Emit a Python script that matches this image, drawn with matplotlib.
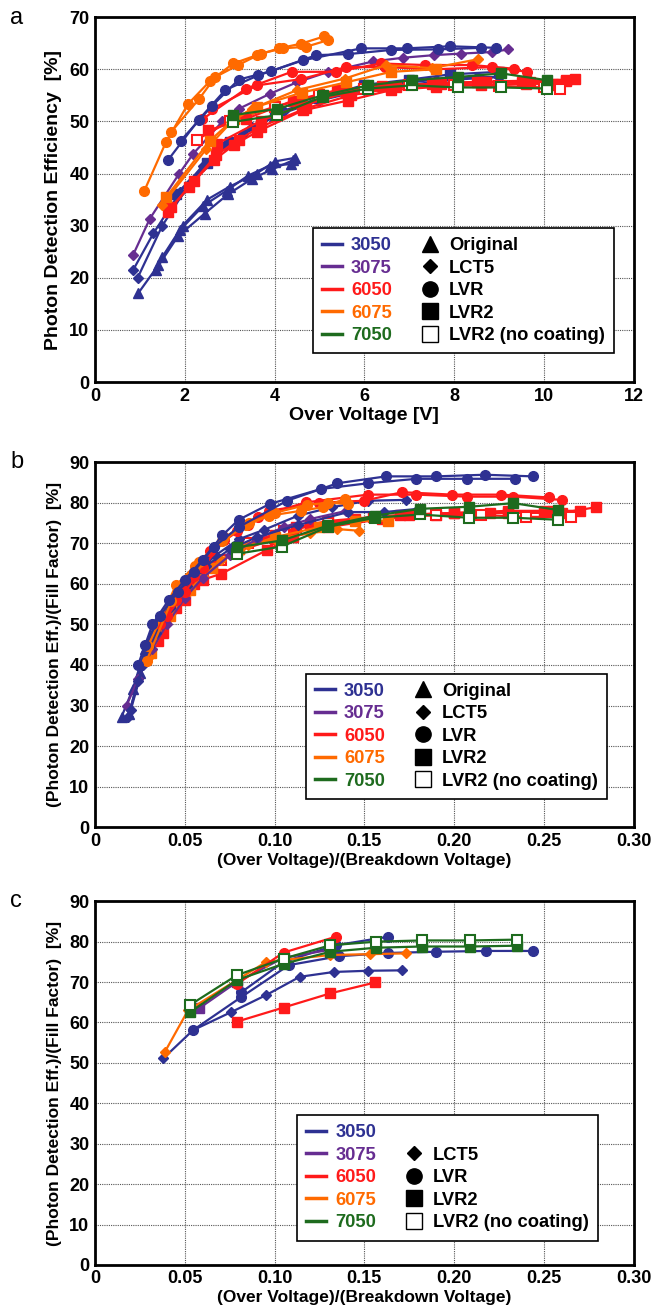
import matplotlib
matplotlib.use('Agg')
import matplotlib.pyplot as plt
from matplotlib.lines import Line2D

plt.rcParams['font.family'] = ['Liberation Sans', 'DejaVu Sans']

# sensor types and colours
sensors = ['3050', '3075', '6050', '6075', '7050']
colors = {'3050': '#2e3192', '3075': '#662d91', '6050': '#ff1a1a',
          '6075': '#ff6a00', '7050': '#1e6b1e'}
coatings = ['Original', 'LCT5', 'LVR', 'LVR2', 'LVR2 (no coating)']

# ---------------- panel a : PDE vs over voltage ----------------
a_t1_v = [0.96, 1.41, 1.89, 2.41, 2.93, 3.41, 3.89, 4.37]
a_t1_p = [17.0, 22.4, 29.1, 33.8, 36.7, 39.6, 41.5, 41.8]
a_t2_v = [1.35, 1.85, 2.44, 2.96, 3.5, 3.95, 4.4]
a_t2_p = [21.5, 28.0, 32.3, 36.0, 39.0, 40.8, 42.5]
a_t3_v = [1.5, 1.95, 2.5, 3.0, 3.6, 4.0, 4.45]
a_t3_p = [24.0, 30.0, 35.0, 37.5, 40.0, 42.3, 43.0]
a_bd1_v = [0.85, 1.3, 1.9, 2.4, 2.9, 3.5, 4.2, 5.0, 6.0, 7.0, 7.6, 8.5, 9.0]
a_bd1_p = [21.5, 28.5, 36.5, 41.5, 45.5, 49.0, 52.0, 54.5, 56.5, 57.5, 58.0, 58.5, 58.5]
a_bd2_v = [0.95, 1.5, 2.1, 2.7, 3.3, 4.0, 5.0, 6.0, 7.0, 8.0, 9.0]
a_bd2_p = [20.0, 30.0, 38.0, 43.5, 47.5, 51.0, 54.0, 56.0, 57.0, 58.0, 58.5]
a_bs_v = [1.8, 2.5, 3.0, 4.0, 5.0, 6.0, 7.0, 7.9, 9.0]
a_bs_p = [36.0, 42.0, 46.0, 51.0, 54.5, 57.0, 58.0, 59.0, 59.5]
a_bc1_v = [1.62, 2.31, 2.9, 3.63, 4.63, 5.93, 6.94, 7.91, 8.93]
a_bc1_p = [42.5, 50.3, 56.0, 58.8, 61.7, 64.0, 64.0, 64.4, 64.1]
a_bc2_v = [1.91, 2.6, 3.2, 3.91, 4.93, 5.64, 6.6, 7.63, 8.6]
a_bc2_p = [46.3, 52.9, 58.0, 59.6, 62.7, 62.9, 63.7, 63.8, 64.1]
a_pd1_v = [0.85, 1.22, 1.87, 2.19, 2.84, 3.2, 3.9, 4.5, 5.2, 6.2, 6.86, 7.55, 8.16, 8.85, 9.21]
a_pd1_p = [24.4, 31.3, 39.9, 43.8, 50.0, 52.4, 55.3, 57.5, 59.5, 61.5, 62.2, 62.7, 63.0, 63.3, 63.8]
a_rc1_v = [2.39, 3.37, 4.38, 5.36, 6.37, 7.35, 8.4, 9.33]
a_rc1_p = [50.4, 56.3, 59.5, 59.5, 61.1, 60.8, 60.8, 60.1]
a_rc2_v = [2.61, 3.61, 4.59, 5.6, 6.45, 7.6, 8.85, 9.62]
a_rc2_p = [52.4, 56.9, 58.1, 60.4, 60.4, 60.0, 60.4, 59.5]
a_rs1_v = [1.62, 2.1, 2.64, 3.1, 3.61, 4.63, 5.64, 6.6, 7.6, 8.6, 9.6, 10.2, 10.7]
a_rs1_p = [32.6, 37.5, 42.5, 45.5, 48.0, 52.1, 54.0, 56.0, 56.6, 57.0, 57.2, 57.2, 58.2]
a_rs2_v = [1.7, 2.2, 2.7, 3.2, 3.7, 4.7, 5.7, 6.7, 7.7, 8.7, 9.7, 10.5]
a_rs2_p = [33.5, 38.5, 43.5, 46.5, 49.0, 52.5, 55.0, 56.5, 57.2, 57.5, 57.5, 57.8]
a_rs3_v = [2.52, 3.37, 4.42, 5.4, 6.4, 7.5, 8.5, 9.5, 10.3]
a_rs3_p = [48.3, 50.5, 54.0, 56.0, 56.8, 57.2, 57.5, 57.5, 57.0]
a_rs4_v = [2.72, 3.69, 4.6, 5.6, 6.6, 7.6, 8.6, 9.6, 10.5]
a_rs4_p = [45.7, 50.1, 53.0, 55.5, 56.6, 57.3, 57.6, 57.8, 58.0]
a_ro_v = [2.27, 3.0, 4.0, 5.0, 6.0, 7.0, 8.0, 9.0, 10.0, 10.35]
a_ro_p = [46.5, 50.0, 52.8, 55.0, 56.2, 57.0, 57.0, 56.8, 56.5, 56.3]
a_oc1_v = [1.10, 1.58, 2.07, 2.56, 3.08, 3.61, 4.1, 4.59, 5.11]
a_oc1_p = [36.7, 46.0, 53.3, 57.7, 61.1, 62.7, 64.0, 64.9, 66.3]
a_oc2_v = [1.70, 2.31, 2.68, 3.19, 3.7, 4.18, 4.7, 5.2]
a_oc2_p = [48.0, 54.2, 58.5, 60.8, 63.0, 64.0, 64.3, 65.6]
a_od1_v = [1.5, 2.48, 3.04, 3.49, 4.5, 5.56, 6.49, 7.5, 8.52]
a_od1_p = [34.0, 44.7, 49.9, 52.4, 56.0, 58.2, 60.8, 60.2, 61.9]
a_os_v = [1.58, 2.56, 3.1, 3.6, 4.6, 5.6, 6.6, 7.6]
a_os_p = [35.4, 46.3, 50.5, 52.8, 55.5, 57.5, 59.5, 60.0]
a_gs_v = [3.08, 4.06, 5.07, 6.09, 7.06, 8.08, 9.05, 10.06]
a_gs_p = [51.2, 52.4, 55.0, 56.9, 57.9, 58.5, 59.2, 57.9]
a_go_v = [3.08, 4.06, 5.07, 6.09, 7.06, 8.08, 9.05, 10.06]
a_go_p = [49.9, 51.2, 54.7, 56.3, 56.9, 56.5, 56.5, 56.3]

# ---------------- panel b : PDE/FF vs OV/Vbd ----------------
b_t1_x = [0.0148, 0.021, 0.028, 0.035, 0.042, 0.05, 0.057, 0.064]
b_t1_y = [27.2, 34.0, 44.0, 50.0, 55.5, 60.5, 64.0, 67.5]
b_t2_x = [0.019, 0.025, 0.031, 0.038, 0.045, 0.052, 0.06, 0.066]
b_t2_y = [28.0, 38.0, 47.0, 52.0, 57.5, 62.0, 65.5, 68.0]
b_bd1_x = [0.0185, 0.024, 0.03, 0.037, 0.045, 0.055, 0.067, 0.08, 0.094, 0.113, 0.132, 0.152, 0.173]
b_bd1_y = [27.2, 36.0, 44.5, 51.0, 56.5, 62.0, 67.0, 71.0, 73.3, 76.8, 78.9, 80.5, 80.7]
b_bd2_x = [0.02, 0.027, 0.034, 0.042, 0.051, 0.062, 0.075, 0.09, 0.113, 0.141, 0.161, 0.18]
b_bd2_y = [29.0, 40.0, 48.0, 54.0, 59.5, 64.5, 68.5, 71.5, 74.5, 77.7, 77.7, 78.5]
b_bc1_x = [0.024, 0.032, 0.041, 0.05, 0.06, 0.071, 0.08, 0.0973, 0.126, 0.152, 0.179, 0.207, 0.234]
b_bc1_y = [40.0, 50.0, 56.0, 61.0, 66.0, 72.0, 75.8, 79.7, 83.4, 84.8, 85.9, 85.9, 85.9]
b_bc2_x = [0.028, 0.036, 0.046, 0.055, 0.066, 0.08, 0.107, 0.135, 0.162, 0.19, 0.217, 0.244]
b_bc2_y = [45.0, 52.0, 58.0, 63.0, 69.0, 74.0, 80.5, 84.8, 86.5, 86.5, 86.9, 86.5]
b_pd_x = [0.0176, 0.024, 0.032, 0.04, 0.05, 0.06, 0.075, 0.09, 0.105, 0.12, 0.14]
b_pd_y = [30.0, 36.5, 44.0, 50.0, 56.5, 61.5, 67.0, 71.0, 74.0, 76.0, 78.0]
b_rc1_x = [0.036, 0.045, 0.055, 0.064, 0.079, 0.091, 0.1176, 0.152, 0.179, 0.207, 0.233, 0.26]
b_rc1_y = [50.0, 56.0, 62.0, 68.2, 73.0, 76.6, 80.1, 82.0, 82.0, 81.5, 81.5, 80.7]
b_rc2_x = [0.04, 0.05, 0.06, 0.072, 0.085, 0.097, 0.125, 0.15, 0.171, 0.199, 0.226, 0.253]
b_rc2_y = [52.0, 58.0, 64.0, 70.7, 74.5, 78.0, 80.0, 80.5, 82.6, 82.0, 82.0, 81.3]
b_rs1_x = [0.035, 0.045, 0.055, 0.065, 0.08, 0.1, 0.12, 0.145, 0.17, 0.2, 0.23, 0.26, 0.279]
b_rs1_y = [46.0, 54.0, 60.0, 64.5, 68.5, 72.0, 74.5, 76.0, 77.0, 77.5, 77.5, 77.5, 78.9]
b_rs2_x = [0.038, 0.05, 0.06, 0.0704, 0.096, 0.11, 0.13, 0.16, 0.19, 0.22, 0.25, 0.27]
b_rs2_y = [48.0, 56.0, 61.0, 62.5, 68.4, 71.5, 74.0, 76.0, 77.0, 77.5, 78.0, 78.0]
b_rs3_x = [0.06, 0.079, 0.1, 0.112, 0.13, 0.155, 0.175, 0.2, 0.23, 0.255]
b_rs3_y = [64.0, 68.0, 71.0, 74.0, 75.5, 76.5, 77.0, 77.5, 78.0, 78.0]
b_ro_x = [0.06, 0.07, 0.085, 0.105, 0.13, 0.16, 0.19, 0.215, 0.24, 0.265]
b_ro_y = [63.4, 66.0, 70.0, 73.0, 75.0, 76.5, 77.0, 77.0, 76.5, 76.5]
b_oc1_x = [0.0287, 0.0426, 0.0556, 0.071, 0.084, 0.097, 0.1145, 0.127, 0.139]
b_oc1_y = [41.0, 55.8, 64.5, 70.6, 74.4, 76.8, 78.0, 78.9, 80.9]
b_oc2_x = [0.0296, 0.045, 0.058, 0.072, 0.086, 0.1, 0.118, 0.13, 0.141]
b_oc2_y = [44.7, 59.6, 65.5, 71.5, 75.0, 77.5, 79.5, 80.0, 79.7]
b_od_x = [0.03, 0.04, 0.05, 0.06, 0.07, 0.085, 0.1, 0.12, 0.135, 0.147]
b_od_y = [42.0, 51.0, 57.0, 62.0, 66.0, 69.5, 71.0, 72.5, 73.5, 73.1]
b_os_x = [0.031, 0.042, 0.053, 0.065, 0.08, 0.1, 0.125, 0.145, 0.163]
b_os_y = [43.0, 52.0, 58.5, 64.0, 68.5, 71.5, 74.0, 75.5, 75.6]
b_gs_x = [0.079, 0.104, 0.13, 0.156, 0.181, 0.208, 0.233, 0.258]
b_gs_y = [69.0, 70.7, 74.4, 76.8, 78.5, 79.0, 79.9, 78.2]
b_go_x = [0.079, 0.104, 0.13, 0.156, 0.181, 0.208, 0.233, 0.258]
b_go_y = [67.4, 69.2, 74.1, 76.3, 77.1, 76.3, 76.3, 75.8]

# ---------------- panel c ----------------
c_bd_x = [0.038, 0.0546, 0.076, 0.0954, 0.114, 0.133, 0.152, 0.171]
c_bd_y = [51.1, 58.1, 62.6, 66.8, 71.3, 72.5, 72.8, 72.9]
c_bc1_x = [0.0546, 0.0815, 0.108, 0.136, 0.163, 0.19, 0.218, 0.244]
c_bc1_y = [58.1, 66.3, 74.2, 76.4, 77.2, 77.5, 77.7, 77.7]
c_bc2_x = [0.0815, 0.105, 0.134, 0.163]
c_bc2_y = [67.5, 75.0, 79.1, 81.2]
c_ps_x = [0.058, 0.079, 0.105, 0.131]
c_ps_y = [63.5, 70.0, 76.0, 78.0]
c_rc_x = [0.079, 0.105, 0.134]
c_rc_y = [69.5, 77.3, 81.2]
c_rs_x = [0.079, 0.105, 0.131, 0.156]
c_rs_y = [60.2, 63.7, 67.2, 69.9]
c_od_x = [0.0389, 0.0518, 0.079, 0.0954, 0.131, 0.153, 0.173]
c_od_y = [52.7, 63.0, 70.5, 75.0, 76.7, 76.9, 77.1]
c_go_x = [0.0528, 0.079, 0.105, 0.131, 0.1565, 0.182, 0.209, 0.235]
c_go_y = [64.3, 71.7, 75.8, 79.1, 80.0, 80.3, 80.3, 80.5]
c_gs_x = [0.0528, 0.079, 0.105, 0.131, 0.1565, 0.182, 0.209, 0.235]
c_gs_y = [62.5, 70.5, 74.5, 77.5, 78.5, 78.8, 78.8, 79.0]

# (x, y, sensor, marker, open)
curves_a = [
    (a_t1_v, a_t1_p, '3050', '^', False), (a_t2_v, a_t2_p, '3050', '^', False),
    (a_t3_v, a_t3_p, '3050', '^', False), (a_bd1_v, a_bd1_p, '3050', 'D', False),
    (a_bd2_v, a_bd2_p, '3050', 'D', False), (a_bs_v, a_bs_p, '3050', 's', False),
    (a_pd1_v, a_pd1_p, '3075', 'D', False),
    (a_rs1_v, a_rs1_p, '6050', 's', False), (a_rs2_v, a_rs2_p, '6050', 's', False),
    (a_rs3_v, a_rs3_p, '6050', 's', False), (a_rs4_v, a_rs4_p, '6050', 's', False),
    (a_ro_v, a_ro_p, '6050', 's', True),
    (a_rc1_v, a_rc1_p, '6050', 'o', False), (a_rc2_v, a_rc2_p, '6050', 'o', False),
    (a_od1_v, a_od1_p, '6075', 'D', False), (a_os_v, a_os_p, '6075', 's', False),
    (a_bc1_v, a_bc1_p, '3050', 'o', False), (a_bc2_v, a_bc2_p, '3050', 'o', False),
    (a_oc1_v, a_oc1_p, '6075', 'o', False), (a_oc2_v, a_oc2_p, '6075', 'o', False),
    (a_go_v, a_go_p, '7050', 's', True), (a_gs_v, a_gs_p, '7050', 's', False),
]
curves_b = [
    (b_rs1_x, b_rs1_y, '6050', 's', False), (b_rs2_x, b_rs2_y, '6050', 's', False),
    (b_rs3_x, b_rs3_y, '6050', 's', False), (b_ro_x, b_ro_y, '6050', 's', True),
    (b_od_x, b_od_y, '6075', 'D', False), (b_os_x, b_os_y, '6075', 's', False),
    (b_t1_x, b_t1_y, '3050', '^', False), (b_t2_x, b_t2_y, '3050', '^', False),
    (b_pd_x, b_pd_y, '3075', 'D', False),
    (b_bd1_x, b_bd1_y, '3050', 'D', False), (b_bd2_x, b_bd2_y, '3050', 'D', False),
    (b_rc1_x, b_rc1_y, '6050', 'o', False), (b_rc2_x, b_rc2_y, '6050', 'o', False),
    (b_oc1_x, b_oc1_y, '6075', 'o', False), (b_oc2_x, b_oc2_y, '6075', 'o', False),
    (b_bc1_x, b_bc1_y, '3050', 'o', False), (b_bc2_x, b_bc2_y, '3050', 'o', False),
    (b_go_x, b_go_y, '7050', 's', True), (b_gs_x, b_gs_y, '7050', 's', False),
]
curves_c = [
    (c_bd_x, c_bd_y, '3050', 'D', False), (c_bc1_x, c_bc1_y, '3050', 'o', False),
    (c_bc2_x, c_bc2_y, '3050', 'o', False), (c_ps_x, c_ps_y, '3075', 's', False),
    (c_rs_x, c_rs_y, '6050', 's', False), (c_od_x, c_od_y, '6075', 'D', False),
    (c_rc_x, c_rc_y, '6050', 'o', False),
    (c_gs_x, c_gs_y, '7050', 's', False), (c_go_x, c_go_y, '7050', 's', True),
]

msize = {'^': 7, 'D': 5, 'o': 7, 's': 7}

fig = plt.figure(figsize=(6.66, 13.13), dpi=100)
ax_a = fig.add_axes([0.1426, 0.709, 0.809, 0.278])
ax_b = fig.add_axes([0.1426, 0.370, 0.809, 0.278])
ax_c = fig.add_axes([0.1426, 0.0366, 0.809, 0.277])


def draw(ax, curves):
    for x, y, s, m, op in curves:
        c = colors[s]
        ax.plot(x, y, color=c, lw=1.6, marker=m, ms=msize[m],
                mfc='white' if op else c, mec=c, mew=1.5 if op else 1)


def style(ax, xlim, ylim, xticks, xlabels, yticks, xlabel, ylabel, lsize):
    ax.set_xlim(*xlim)
    ax.set_ylim(*ylim)
    ax.set_xticks(xticks)
    ax.set_xticklabels(xlabels)
    ax.set_yticks(yticks)
    ax.grid(True, color='#555555', ls=(0, (1, 1)), lw=0.8)
    ax.set_axisbelow(True)
    ax.tick_params(length=0, labelsize=13, pad=4)
    for t in ax.get_xticklabels() + ax.get_yticklabels():
        t.set_fontweight('bold')
    for sp in ax.spines.values():
        sp.set_linewidth(2)
    ax.set_xlabel(xlabel, fontsize=lsize, fontweight='bold', labelpad=2)
    ax.set_ylabel(ylabel, fontsize=lsize, fontweight='bold', labelpad=5)


def legend(ax, anchor, first_marker=True):
    h1 = [Line2D([], [], color=colors[s], lw=2.5) for s in sensors]
    h2 = [Line2D([], [], ls='none', marker='^', color='k', ms=11),
          Line2D([], [], ls='none', marker='D', color='k', ms=7),
          Line2D([], [], ls='none', marker='o', color='k', ms=11),
          Line2D([], [], ls='none', marker='s', color='k', ms=11),
          Line2D([], [], ls='none', marker='s', mfc='white', mec='k', ms=11, mew=1)]
    labs2 = list(coatings)
    if not first_marker:
        h2[0] = Line2D([], [], ls='none')
        labs2[0] = ''
    leg = ax.legend(h1 + h2, sensors + labs2, ncol=2, loc='lower right',
                    bbox_to_anchor=anchor, prop=dict(weight='bold', size=13.2),
                    handlelength=1.1, handletextpad=0.5, columnspacing=1.5,
                    labelspacing=0.3, borderpad=0.5, fancybox=False,
                    edgecolor='k', framealpha=1)
    leg.get_frame().set_linewidth(1.2)
    for t, s in zip(leg.get_texts()[:5], sensors):
        t.set_color(colors[s])


draw(ax_a, curves_a)
style(ax_a, (0, 12), (0, 70), range(0, 13, 2), [str(v) for v in range(0, 13, 2)],
      range(0, 71, 10), 'Over Voltage [V]', 'Photon Detection Efficiency  [%]', 14)
legend(ax_a, (0.98, 0.054))

r_ticks = [0, 0.05, 0.10, 0.15, 0.20, 0.25, 0.30]
r_labels = ['0', '0.05', '0.10', '0.15', '0.20', '0.25', '0.30']
draw(ax_b, curves_b)
style(ax_b, (0, 0.3), (0, 90), r_ticks, r_labels, range(0, 91, 10),
      '(Over Voltage)/(Breakdown Voltage)', '(Photon Detection Eff.)/(Fill Factor)  [%]', 12.5)
legend(ax_b, (0.967, 0.052))

draw(ax_c, curves_c)
style(ax_c, (0, 0.3), (0, 90), r_ticks, r_labels, range(0, 91, 10),
      '(Over Voltage)/(Breakdown Voltage)', '(Photon Detection Eff.)/(Fill Factor)  [%]', 12.5)
legend(ax_c, (0.951, 0.042), first_marker=False)

for lab, yy in zip(['a', 'b', 'c'], [0.986, 0.648, 0.314]):
    fig.text(0.015, yy, lab, fontsize=17, va='center')

fig.savefig('out.png', dpi=100)
